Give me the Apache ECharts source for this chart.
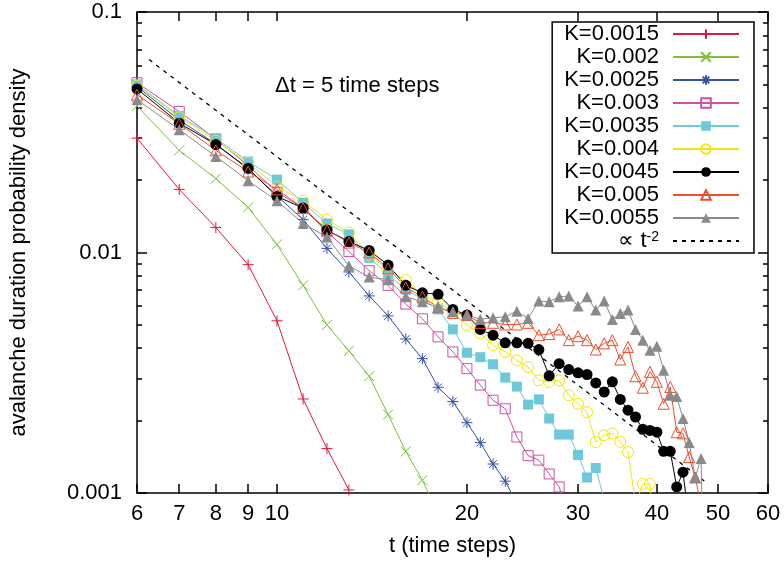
<!DOCTYPE html>
<html><head><meta charset="utf-8">
<script src="https://cdn.jsdelivr.net/npm/echarts@6/dist/echarts.min.js"></script>
<style>html,body{margin:0;padding:0;background:#fff}#c{width:784px;height:564px}</style>
</head><body><div id="c"></div>
<script>
// time steps (x values), each series starts at t = 6
const tSteps = [6,7,8,9,10,11,12,13,14,15,16,17,18,19,20,21,22,23,24,25,26,27,28,29,30,31,32,33,34,35,36,37,38,39,40,41,42,43,44,45,46,47,48];

const seriesNames = ['K=0.0015','K=0.002','K=0.0025','K=0.003','K=0.0035','K=0.004','K=0.0045','K=0.005','K=0.0055'];
const refName = '∝ t^-2';

const pK0015 = [0.0299,0.0183,0.0127,0.0089,0.0052,0.00246,0.00153,0.00103];
const pK002  = [0.0407,0.0266,0.0203,0.0154,0.0108,0.0073,0.0050,0.0039,0.00306,0.00212,0.00149,0.00113,0.00082];
const pK0025 = [0.049,0.0355,0.0283,0.0222,0.0172,0.0137,0.0104,0.0083,0.0066,0.00545,0.00437,0.00362,0.00275,0.0024,0.00196,0.00162,0.00132,0.00112,0.0009];
const pK003  = [0.0508,0.0386,0.0296,0.0230,0.0178,0.0153,0.0122,0.0101,0.0084,0.0073,0.0061,0.0053,0.00446,0.00386,0.00329,0.00281,0.00243,0.00224,0.00171,0.00143,0.00137,0.0012,0.00106,0.0008];
const pK0035 = [0.050,0.037,0.0299,0.0239,0.0201,0.0161,0.0132,0.0119,0.0095,0.0081,0.0070,0.0064,0.0058,0.00479,0.00383,0.00367,0.00343,0.00302,0.00277,0.00233,0.00245,0.00204,0.00175,0.00175,0.00144,0.00116,0.00127,0.00094];
const pK004  = [0.0495,0.0365,0.0292,0.0236,0.0188,0.0164,0.0137,0.0121,0.0098,0.0085,0.00768,0.0066,0.0063,0.00558,0.00499,0.00461,0.00412,0.00386,0.00356,0.00334,0.00294,0.0029,0.00294,0.00255,0.00235,0.00217,0.00163,0.00174,0.00177,0.00163,0.00148,0.0009,0.00109,0.00109,0.0005];
const pK0045 = [0.0479,0.0345,0.0281,0.0224,0.0171,0.0153,0.0124,0.0111,0.0102,0.00887,0.0073,0.0068,0.0067,0.0058,0.0055,0.00479,0.00453,0.00421,0.00421,0.00419,0.00395,0.00307,0.00345,0.00326,0.00316,0.00311,0.00287,0.00263,0.0029,0.00245,0.00221,0.00207,0.00184,0.00182,0.00179,0.00149,0.00149,0.00106,0.00122,0.00075];
const pK005  = [0.0453,0.0343,0.0266,0.0217,0.0183,0.0153,0.0124,0.0110,0.0100,0.00859,0.00716,0.00655,0.00591,0.00561,0.0055,0.0051,0.0051,0.00502,0.00502,0.0051,0.00453,0.00458,0.00479,0.00432,0.00449,0.00432,0.00395,0.00419,0.00432,0.00359,0.00405,0.00306,0.00274,0.00319,0.0029,0.00235,0.00276,0.00179,0.00177,0.00141,0.00116,0.0009];
const pK0055 = [0.0432,0.0324,0.0251,0.0199,0.0164,0.0132,0.0116,0.0088,0.0079,0.0077,0.00655,0.00624,0.0059,0.00567,0.0055,0.00528,0.00535,0.0054,0.0057,0.00532,0.00628,0.00624,0.00655,0.00659,0.00599,0.00655,0.00576,0.00628,0.00527,0.00558,0.00576,0.00479,0.00432,0.00392,0.00408,0.00324,0.00255,0.00252,0.00204,0.00162,0.00116,0.00139,0.0001];

// reference power law line endpoints as drawn
const refT = [6.27, 48.1];
const refP = [0.0634, 0.001096];

const xTicks = [6,7,8,9,10,20,30,40,50,60];
const yMajor = [0.001,0.01,0.1];
const yMinor = [0.002,0.003,0.004,0.005,0.006,0.007,0.008,0.009,0.02,0.03,0.04,0.05,0.06,0.07,0.08,0.09];
const annotation = 'Δt = 5 time steps';

const allValues = [pK0015,pK002,pK0025,pK003,pK0035,pK004,pK0045,pK005,pK0055];

const FONT = 'Liberation Sans';
const PLUS = 'path://M5,0 L5,10 M0,5 L10,5';
const CROSS = 'path://M0,0 L10,10 M0,10 L10,0';
const STAR = 'path://M5,0 L5,10 M0,5 L10,5 M1.5,1.5 L8.5,8.5 M1.5,8.5 L8.5,1.5';
const styles = [
  {c:'#e5173a', sym:PLUS, size:11, open:'stroke'},
  {c:'#7dbf3e', sym:CROSS, size:10, open:'stroke'},
  {c:'#3453a3', sym:STAR, size:11, open:'stroke'},
  {c:'#cc4fa8', sym:'rect', size:10, open:'open'},
  {c:'#6cc8da', sym:'rect', size:10, open:'fill'},
  {c:'#f2e60e', sym:'circle', size:11, open:'open'},
  {c:'#000000', sym:'circle', size:11, open:'fill'},
  {c:'#ec4f2b', sym:'triangle', size:11, open:'open'},
  {c:'#8a8a8a', sym:'triangle', size:11, open:'fill'}
];

const series = allValues.map((vals, i) => {
  const s = styles[i];
  let itemStyle;
  if (s.open === 'fill') itemStyle = {color: s.c, borderWidth: 0};
  else if (s.open === 'open') itemStyle = {color: 'rgba(255,255,255,0)', borderColor: s.c, borderWidth: 1};
  else itemStyle = {color: s.c, borderColor: s.c, borderWidth: 1};
  return {
    name: seriesNames[i], type: 'line',
    data: vals.map((v, k) => [tSteps[k], v]),
    symbol: s.sym, symbolSize: s.size, showSymbol: true, showAllSymbol: true,
    lineStyle: {color: s.c, width: 1},
    itemStyle: itemStyle,
    clip: true, animation: false,
    emphasis: {disabled: true}
  };
});
series.push({
  name: refName, type: 'line',
  data: refT.map((t, k) => [t, refP[k]]),
  symbol: 'path://M0,0 L1,0 L1,1 L0,1 Z', showSymbol: false,
  itemStyle: {color: 'rgba(0,0,0,0)', borderWidth: 0},
  lineStyle: {color: '#000', width: 1.3, type: [4, 5]},
  clip: true, animation: false, emphasis: {disabled: true}, z: 1
});

const axisText = {fontFamily: FONT, fontSize: 22, color: '#000'};
const fmtY = v => String(+(+v).toPrecision(3));
const tickStyle = {color: '#000', width: 1.5};

const chart = echarts.init(document.getElementById('c'), null, {renderer: 'canvas'});
chart.setOption({
  animation: false,
  backgroundColor: '#fff',
  grid: {left: 134, right: 16, top: 12, bottom: 71, containLabel: false},
  xAxis: [
    {type: 'log', min: 6, max: 60, position: 'bottom',
     axisLine: {show: true, lineStyle: {color: '#000', width: 1.5}},
     axisTick: {show: true, inside: true, length: 9, customValues: xTicks, lineStyle: tickStyle},
     axisLabel: {show: true, customValues: xTicks, margin: 10, ...axisText, formatter: v => String(Math.round(v))},
     splitLine: {show: false},
     name: 't (time steps)', nameLocation: 'middle', nameGap: 42, nameTextStyle: axisText},
    {type: 'log', min: 6, max: 60, position: 'top',
     axisLine: {show: true, lineStyle: {color: '#000', width: 1.5}},
     axisTick: {show: true, inside: true, length: 9, customValues: xTicks, lineStyle: tickStyle},
     axisLabel: {show: false}, splitLine: {show: false}}
  ],
  yAxis: [
    {type: 'log', min: 0.001, max: 0.1, position: 'left',
     axisLine: {show: true, lineStyle: {color: '#000', width: 1.5}},
     axisTick: {show: true, inside: true, length: 10, customValues: yMajor, lineStyle: tickStyle},
     axisLabel: {show: true, customValues: yMajor, margin: 15, ...axisText, formatter: fmtY},
     splitLine: {show: false},
     name: 'avalanche duration probability density', nameLocation: 'middle', nameGap: 107, nameTextStyle: axisText},
    {type: 'log', min: 0.001, max: 0.1, position: 'left', offset: 0,
     axisLine: {show: false},
     axisTick: {show: true, inside: true, length: 5, customValues: yMinor, lineStyle: tickStyle},
     axisLabel: {show: false}, splitLine: {show: false}},
    {type: 'log', min: 0.001, max: 0.1, position: 'right',
     axisLine: {show: true, lineStyle: {color: '#000', width: 1.5}},
     axisTick: {show: true, inside: true, length: 10, customValues: yMajor, lineStyle: tickStyle},
     axisLabel: {show: false}, splitLine: {show: false}},
    {type: 'log', min: 0.001, max: 0.1, position: 'right', offset: 0,
     axisLine: {show: false},
     axisTick: {show: true, inside: true, length: 5, customValues: yMinor, lineStyle: tickStyle},
     axisLabel: {show: false}, splitLine: {show: false}}
  ],
  legend: {
    orient: 'vertical', right: 30, top: 22, align: 'right',
    itemWidth: 66, itemHeight: 12, itemGap: 1,
    padding: [1, 14, 1, 12],
    borderColor: '#000', borderWidth: 1.5, backgroundColor: '#fff',
    selectedMode: false,
    textStyle: {fontFamily: FONT, fontSize: 22, color: '#000', lineHeight: 22, padding: [0, 9, 0, 0],
      rich: {n: {fontFamily: FONT, fontSize: 22, color: '#000', lineHeight: 22},
             s: {fontFamily: FONT, fontSize: 14, color: '#000', verticalAlign: 'top', lineHeight: 14}}},
    formatter: name => name === refName ? '{n|∝ t}{s|-2}' : name,
    data: seriesNames.concat([refName])
  },
  graphic: [{type: 'text', x: 275, y: 86, style: {text: annotation, fontFamily: FONT, fontSize: 22, fill: '#000', verticalAlign: 'middle'}}],
  series: series
});
</script></body></html>
